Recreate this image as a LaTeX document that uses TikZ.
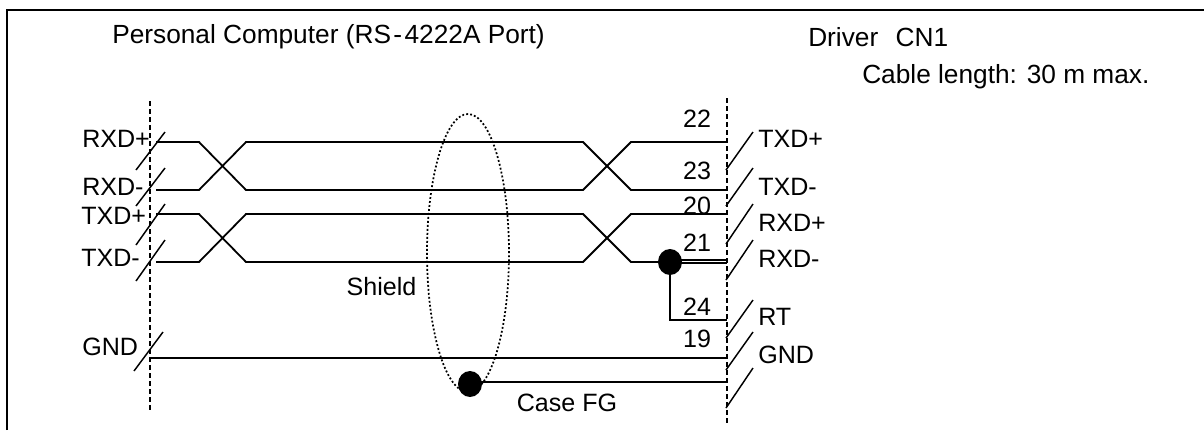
\documentclass[tikz,border=0pt]{standalone}
\usepackage{fontspec}
\setmainfont{Liberation Sans}
\usetikzlibrary{positioning,shapes.geometric}

\tikzset{
	wire/.style={draw, line width=1.35pt},
	tick/.style={draw, line width=1.1pt},
	bus/.style={draw, line width=1pt, dash pattern=on 3.8pt off 2.2pt},
	lbl/.style={inner sep=0pt, font=\fontsize{18.8}{22}\selectfont},
	title/.style={inner sep=0pt, font=\fontsize{19.7}{23}\selectfont},
	joint/.style={ellipse, fill=black, minimum width=18pt, minimum height=19.5pt, inner sep=0pt}
}

\begin{document}
\begin{tikzpicture}[x=0.75pt,y=-0.75pt]
	\useasboundingbox (0,0) rectangle (1204,430);

	% frame
	\coordinate (f_a) at (6.5,430);
	\coordinate (f_b) at (6.5,10);
	\coordinate (f_c) at (1204,10);
	\draw[line width=1.5pt] (f_a) -- (f_b) -- (f_c);

	% headings
	\node[title, anchor=west] (pc) at (112,37) {Personal Computer (RS\kern1.8pt-\kern1.8pt4222A Port)};
	\node[title, anchor=west] (cn) at (808,37) {Driver\hspace{13pt}CN1};
	\node[title, anchor=west] (len) at (862,77) {Cable length: 30 m max.};

	% both connector sides
	\coordinate (l_top) at (150,101);
	\coordinate (l_bot) at (150,411);
	\coordinate (r_top) at (727,98);
	\coordinate (r_bot) at (727,423);
	\draw[bus] (l_top) -- (l_bot);
	\draw[bus] (r_top) -- (r_bot);

	% left names
	\node[lbl, anchor=west] (l_1) at (82,139) {RXD+};
	\node[lbl, anchor=west] (l_2) at (82,187) {RXD-};
	\node[lbl, anchor=west] (l_3) at (81,216) {TXD+};
	\node[lbl, anchor=west] (l_4) at (81,258) {TXD-};
	\node[lbl, anchor=west] (l_5) at (82,347) {GND};

	% right names
	\node[lbl, anchor=west] (r_1) at (758,139) {TXD+};
	\node[lbl, anchor=west] (r_2) at (758,187) {TXD-};
	\node[lbl, anchor=west] (r_3) at (758,223) {RXD+};
	\node[lbl, anchor=west] (r_4) at (758,259) {RXD-};
	\node[lbl, anchor=west] (r_5) at (758,317) {RT};
	\node[lbl, anchor=west] (r_6) at (758,355) {GND};

	% pin numbers
	\node[lbl] (p_22) at (697,119) {22};
	\node[lbl] (p_23) at (697,171) {23};
	\node[lbl] (p_20) at (697,206) {20};
	\node[lbl] (p_21) at (697,243) {21};
	\node[lbl] (p_24) at (697,307) {24};
	\node[lbl] (p_19) at (697,339) {19};

	\node[lbl] (shield) at (381.5,287) {Shield};
	\node[lbl] (fg) at (567,403) {Case FG};

	% slashes, left
	\coordinate (a_1) at (136,170); \coordinate (b_1) at (165,132);
	\coordinate (a_2) at (136,206); \coordinate (b_2) at (165,168);
	\coordinate (a_3) at (136,245); \coordinate (b_3) at (165,204);
	\coordinate (a_4) at (136,281); \coordinate (b_4) at (165,240);
	\coordinate (a_5) at (134,371); \coordinate (b_5) at (163,332);
	\draw[tick] (a_1) -- (b_1);
	\draw[tick] (a_2) -- (b_2);
	\draw[tick] (a_3) -- (b_3);
	\draw[tick] (a_4) -- (b_4);
	\draw[tick] (a_5) -- (b_5);

	% slashes, right
	\coordinate (c_1) at (726,170); \coordinate (d_1) at (753,132);
	\coordinate (c_2) at (726,206); \coordinate (d_2) at (753,168);
	\coordinate (c_3) at (726,244); \coordinate (d_3) at (753,204);
	\coordinate (c_4) at (726,280); \coordinate (d_4) at (753,240);
	\coordinate (c_5) at (726,338); \coordinate (d_5) at (753,300);
	\coordinate (c_6) at (726,370); \coordinate (d_6) at (753,332);
	\coordinate (c_7) at (726,408); \coordinate (d_7) at (753,368);
	\draw[tick] (c_1) -- (d_1);
	\draw[tick] (c_2) -- (d_2);
	\draw[tick] (c_3) -- (d_3);
	\draw[tick] (c_4) -- (d_4);
	\draw[tick] (c_5) -- (d_5);
	\draw[tick] (c_6) -- (d_6);
	\draw[tick] (c_7) -- (d_7);

	% twisted pairs
	\coordinate (w_1) at (156,142); \coordinate (e_1) at (727,142);
	\coordinate (w_2) at (156,190); \coordinate (e_2) at (727,190);
	\coordinate (w_3) at (156,214); \coordinate (e_3) at (727,214);
	\coordinate (w_4) at (156,262);
	\draw[wire] (w_1) -- (199,142) -- (246,190) -- (583,190) -- (631,142) -- (e_1);
	\draw[wire] (w_2) -- (199,190) -- (246,142) -- (583,142) -- (631,190) -- (e_2);
	\draw[wire] (w_3) -- (199,214) -- (246,262) -- (583,262) -- (631,214) -- (e_3);
	\draw[wire] (w_4) -- (199,262) -- (246,214) -- (583,214) -- (631,262) -- (670,262);

	% terminator link
	\node[joint] (j_rt) at (670,262) {};
	\coordinate (e_4) at (727,260);
	\coordinate (e_4b) at (727,263);
	\coordinate (e_5) at (727,320);
	\draw[wire] (j_rt.center) ++(0,-2) -- (e_4);
	\draw[wire] (j_rt.center) ++(0,1) -- (e_4b);
	\draw[wire] (j_rt.center) -- (670,320) -- (e_5);

	% ground and case
	\coordinate (w_6) at (150,358);
	\coordinate (e_6) at (727,358);
	\coordinate (e_7) at (727,382);
	\draw[wire] (w_6) -- (e_6);
	\node[joint] (j_fg) at (470,384) {};
	\draw[wire] (j_fg.center) ++(0,-2) -- (e_7);

	% cable shield
	\node[ellipse, draw, line width=1.3pt, dash pattern=on 1.4pt off 1.6pt, minimum width=61.5pt, minimum height=208.5pt, inner sep=0pt] (cable) at (468,253) {};
\end{tikzpicture}
\end{document}
